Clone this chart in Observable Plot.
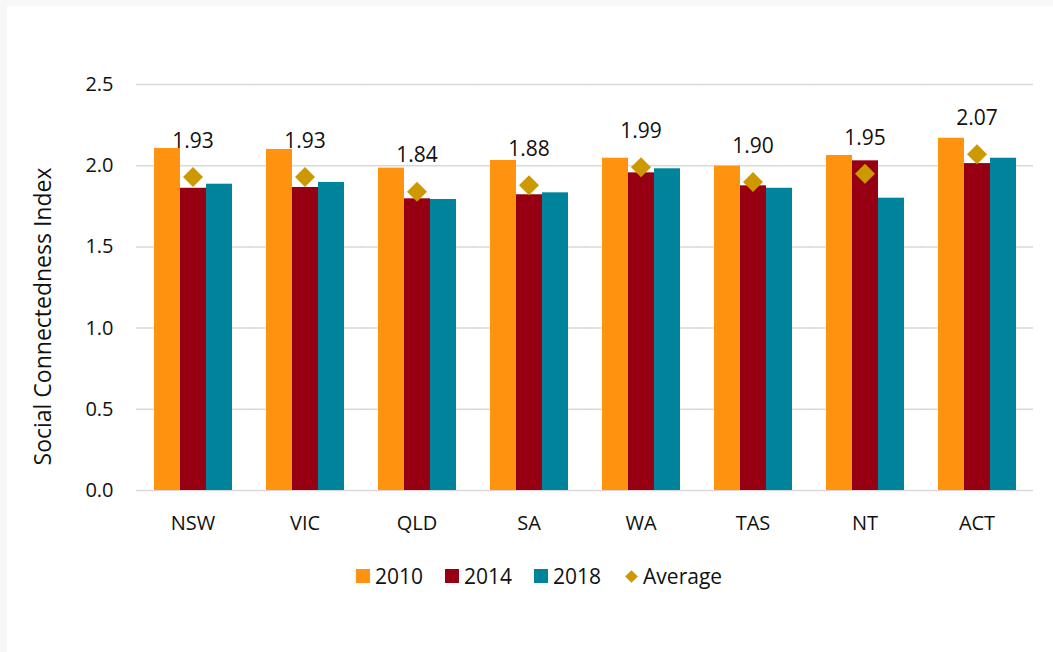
<!DOCTYPE html>
<html>
<head>
<meta charset="utf-8">
<script src="https://cdn.jsdelivr.net/npm/d3@7"></script>
<script src="https://cdn.jsdelivr.net/npm/@observablehq/plot@0.6"></script>
<style>
  body { margin: 0; background: #f7f7f7; font-family: "Open Sans", sans-serif; }
  #wrap { position: absolute; left: 7px; top: 6px; width: 1046px; height: 646px; background: #fff; overflow: hidden; }
  #legend { position: absolute; left: 349px; top: 557px; height: 26px; display: flex; align-items: center; font-size: 21px; color: #111; white-space: nowrap; }
  .item { display: flex; align-items: center; margin-right: 22px; }
  .sw { width: 14px; height: 14px; margin-right: 5px; display: inline-block; }
  .dm { width: 9px; height: 9px; margin: 0 7px 0 4px; transform: rotate(45deg); display: inline-block; }
</style>
</head>
<body>
<div id="wrap">
  <div id="chart"></div>
  <div id="legend"></div>
</div>
<script>
const states = ["NSW", "VIC", "QLD", "SA", "WA", "TAS", "NT", "ACT"];
const years = ["2010", "2014", "2018"];
const v2010 = [2.106, 2.100, 1.985, 2.032, 2.046, 1.997, 2.063, 2.169];
const v2014 = [1.861, 1.866, 1.796, 1.821, 1.956, 1.876, 2.030, 2.013];
const v2018 = [1.886, 1.897, 1.792, 1.833, 1.981, 1.861, 1.800, 2.046];
const averages = [1.93, 1.93, 1.84, 1.88, 1.99, 1.90, 1.95, 2.07];
const yTicks = [0, 0.5, 1.0, 1.5, 2.0, 2.5];
const yTitle = "Social Connectedness Index";
const avgName = "Average";
const colors = ["#FF930F", "#960012", "#00849C"];
const avgColor = "#CC9900";

const series = [v2010, v2014, v2018];
const bars = [];
states.forEach((s, i) => years.forEach((y, j) => bars.push({state: s, year: y, value: series[j][i]})));
const avg = states.map((s, i) => ({state: s, value: averages[i]}));

const chart = Plot.plot({
  width: 1046,
  height: 530,
  marginLeft: 129,
  marginRight: 20,
  marginTop: 78,
  marginBottom: 46,
  style: { fontFamily: "'Open Sans', sans-serif", fontSize: "20px", color: "#111", background: "transparent" },
  fx: { domain: states, paddingInner: 0.295, paddingOuter: 0.1475, label: null, axis: "bottom", tickSize: 0, tickPadding: 25 },
  x: { domain: years, padding: 0, axis: null },
  y: { domain: [0, 2.5], ticks: yTicks, tickFormat: d3.format(".1f"), tickSize: 0, tickPadding: 40, label: null },
  color: { domain: years, range: colors },
  marks: [
    Plot.ruleY(yTicks, { stroke: "#d9d9d9", strokeWidth: 1.5, insetLeft: -17, insetRight: -17 }),
    Plot.barY(bars, { fx: "state", x: "year", y: "value", fill: "year" }),
    Plot.dot(avg, { fx: "state", y: "value", symbol: "diamond2", r: 9, fill: avgColor, stroke: null }),
    Plot.text(avg, { fx: "state", y: "value", text: d => d.value.toFixed(2), dy: -36, fontSize: 21, fill: "#111" }),
    Plot.text([yTitle], { facet: "super", frameAnchor: "left", textAnchor: "middle", rotate: -90, dx: -110, dy: 29, fontSize: 23, fill: "#111" })
  ]
});
document.getElementById("chart").appendChild(chart);

const legend = document.getElementById("legend");
years.forEach((y, i) => {
  const it = document.createElement("div");
  it.className = "item";
  it.innerHTML = `<span class="sw" style="background:${colors[i]}"></span><span>${y}</span>`;
  legend.appendChild(it);
});
const it = document.createElement("div");
it.className = "item";
it.innerHTML = `<span class="dm" style="background:${avgColor}"></span><span>${avgName}</span>`;
legend.appendChild(it);
</script>
</body>
</html>
